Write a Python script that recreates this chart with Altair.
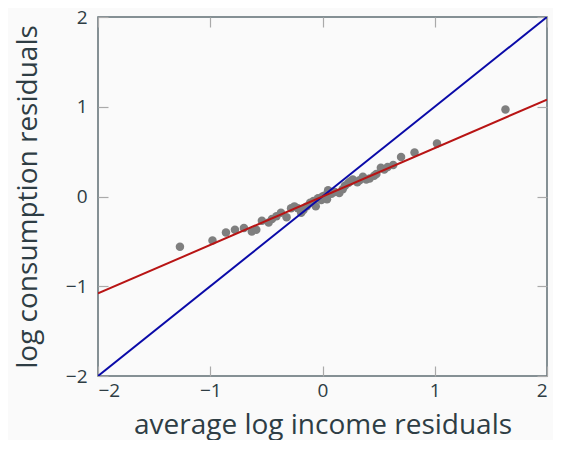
import altair as alt
import pandas as pd

# scatter of residuals
pts_x = [-1.27, -0.98, -0.86, -0.78, -0.70, -0.63, -0.59, -0.54, -0.48, -0.45,
         -0.41, -0.37, -0.32, -0.28, -0.25, -0.22, -0.19, -0.17, -0.14, -0.11,
         -0.08, -0.06, -0.04, -0.01, 0.00, 0.02, 0.04, 0.05, 0.08, 0.11,
         0.15, 0.18, 0.20, 0.23, 0.25, 0.27, 0.31, 0.33, 0.36, 0.39,
         0.42, 0.46, 0.48, 0.52, 0.55, 0.58, 0.63, 0.70, 0.82, 1.02, 1.63]
pts_y = [-0.56, -0.49, -0.40, -0.37, -0.35, -0.39, -0.37, -0.27, -0.29, -0.25,
         -0.22, -0.18, -0.23, -0.13, -0.11, -0.13, -0.18, -0.15, -0.11, -0.07,
         -0.05, -0.11, -0.02, -0.04, 0.00, 0.01, -0.03, 0.07, 0.03, 0.05,
         0.04, 0.08, 0.12, 0.15, 0.17, 0.19, 0.16, 0.18, 0.22, 0.19,
         0.20, 0.23, 0.25, 0.32, 0.30, 0.33, 0.35, 0.44, 0.49, 0.59, 0.97]

# fitted line and 45-degree line
fit_x = [-2, 2]
fit_y = [-1.08, 1.08]
diag_x = [-2, 2]
diag_y = [-2, 2]

ticks = [-2, -1, 0, 1, 2]

W, H = 449, 359
font = "Open Sans"
txt = "#2e3d44"
tickc = "#aaaaaa"

pts = pd.DataFrame({"x": pts_x, "y": pts_y})
fit = pd.DataFrame({"x": fit_x, "y": fit_y})
diag = pd.DataFrame({"x": diag_x, "y": diag_y})

sx = alt.Scale(domain=[-2, 2], nice=False, zero=False)
sy = alt.Scale(domain=[-2, 2], nice=False, zero=False)

common = dict(domain=False, grid=False, values=ticks, labelFont=font,
              titleFont=font, labelColor=txt, titleColor=txt,
              tickColor=tickc, tickWidth=1.2, tickSize=10)

# labelled axes (no ticks)
ax_x_lab = alt.Axis(orient="bottom", ticks=False, labelFontSize=19, labelPadding=5,
                    title="average log income residuals", titleFontSize=28,
                    titleFontWeight="normal", titleBaseline="alphabetic", titleY=57,
                    **common)
ax_y_lab = alt.Axis(orient="left", ticks=False, labelFontSize=19, labelPadding=11,
                    title="log consumption residuals", titleFontSize=28,
                    titleFontWeight="normal", titlePadding=23, **common)
# inward ticks on bottom/left
ax_x_in_b = alt.Axis(orient="top", offset=-H, labels=False, title=None, **common)
ax_y_in_l = alt.Axis(orient="right", offset=-W, labels=False, title=None, **common)
# inward ticks on top/right
ax_x_in_t = alt.Axis(orient="bottom", offset=-H, labels=False, title=None, **common)
ax_y_in_r = alt.Axis(orient="left", offset=-W, labels=False, title=None, **common)

points = alt.Chart(pts).mark_circle(size=72, color="#7f7f7f", opacity=1).encode(
    x=alt.X("x:Q", scale=sx, axis=ax_x_lab),
    y=alt.Y("y:Q", scale=sy, axis=ax_y_lab),
)

diag_line = alt.Chart(diag).mark_line(color="#0a0aa8", strokeWidth=2, clip=True).encode(
    x=alt.X("x:Q", scale=sx, axis=ax_x_in_b),
    y=alt.Y("y:Q", scale=sy, axis=ax_y_in_l),
)

fit_line = alt.Chart(fit).mark_line(color="#b81414", strokeWidth=2, clip=True).encode(
    x=alt.X("x:Q", scale=sx, axis=ax_x_in_t),
    y=alt.Y("y:Q", scale=sy, axis=ax_y_in_r),
)

chart = alt.layer(points, diag_line, fit_line).resolve_axis(
    x="independent", y="independent"
).properties(
    width=W, height=H,
    autosize=alt.AutoSizeParams(type="none"),
    padding={"left": 90, "top": 9, "right": 6, "bottom": 64},
    background="#fafafa",
).configure_view(
    stroke="#5f6e73", strokeWidth=1.5, fill="#fafafa"
)

chart.save("out.html", embed_options={"renderer": "svg", "actions": False})
